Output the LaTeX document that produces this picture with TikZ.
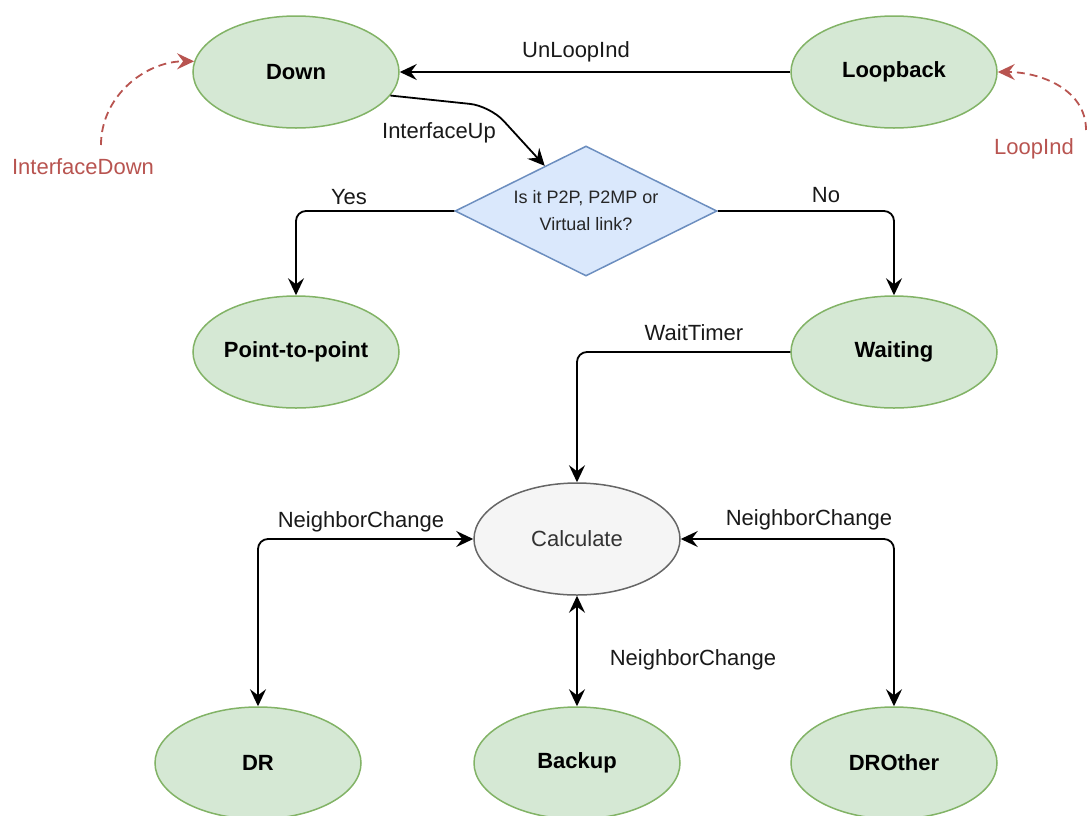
\documentclass[tikz,border=0pt]{standalone}
\usepackage{fontspec}
\setmainfont{Liberation Sans}
\usetikzlibrary{shapes.geometric,arrows.meta}
\definecolor{grfill}{HTML}{D5E8D4}
\definecolor{grline}{HTML}{82B366}
\definecolor{blfill}{HTML}{DAE8FC}
\definecolor{blline}{HTML}{6C8EBF}
\definecolor{gyfill}{HTML}{F5F5F5}
\definecolor{gyline}{HTML}{666666}
\definecolor{evred}{HTML}{B85450}

\begin{document}
\begin{tikzpicture}[x=0.5pt,y=0.5pt,
    >={Stealth[length=8.5pt,width=8pt,inset=3pt]},
    state/.style={ellipse,draw=grline,fill=grfill,line width=0.75pt,
      minimum width=103pt,minimum height=56pt,inner sep=0pt,
      font=\bfseries\fontsize{11}{13}\selectfont},
    calc/.style={state,draw=gyline,fill=gyfill,text=black!80,
      font=\fontsize{11}{13}\selectfont},
    quest/.style={diamond,draw=blline,fill=blfill,line width=0.75pt,
      aspect=2,minimum width=131pt,minimum height=65pt,inner sep=0pt,
      align=center,text=black!85,font=\fontsize{9}{13.5}\selectfont},
    lbl/.style={text=black!90,font=\fontsize{11}{13}\selectfont},
    evlbl/.style={lbl,text=evred},
    trans/.style={line width=0.9pt,rounded corners=5pt,->},
    both/.style={trans,<->},
    event/.style={trans,evred,dash pattern=on 4pt off 2.5pt}]
    \useasboundingbox (0,0) rectangle (1087,-815);

    % states
    \node[state] (Down) at (296,-72) {Down};
    \node[state] (Loop) at (894,-72) {Loopback};
    \node[quest] (Q) at (586,-211) {Is it P2P, P2MP or\\Virtual link?};
    \node[state] (P2P) at (296,-352) {Point-to-point};
    \node[state] (Wait) at (894,-352) {Waiting};
    \node[calc] (Calc) at (577,-539) {Calculate};
    \node[state] (DR) at (258,-763) {DR};
    \node[state] (BDR) at (577,-763) {Backup};
    \node[state] (Other) at (894,-763) {DROther};

    % outside events
    \coordinate (cIfDown) at (101,-145);
    \coordinate (cLoopInd) at (1086,-130);
    \node[evlbl] (lIfDown) at (83,-167) {InterfaceDown};
    \node[evlbl] (lLoopInd) at (1034,-149) {LoopInd};

    % transition labels
    \node[lbl] (lUnLoop) at (576,-52) {UnLoopInd};
    \node[lbl] (lIfUp) at (439,-133) {InterfaceUp};
    \node[lbl] (lYes) at (349,-197) {Yes};
    \node[lbl] (lNo) at (826,-195) {No};
    \node[lbl] (lWait) at (694,-333) {WaitTimer};
    \node[lbl] (lNbDR) at (361,-522) {NeighborChange};
    \node[lbl] (lNbOther) at (809,-520) {NeighborChange};
    \node[lbl] (lNbBDR) at (693,-660) {NeighborChange};

    \draw[trans] (Loop) -- (Down);
    \draw[trans,rounded corners=10pt] (Down.-14) -- (490,-106) -- (Q);
    \draw[trans] (Q.west) -| (P2P.north);
    \draw[trans] (Q.east) -| (Wait.north);
    \draw[trans] (Wait.west) -| (Calc.north);
    \draw[both] (Calc.west) -| (DR.north);
    \draw[both] (Calc.east) -| (Other.north);
    \draw[both] (Calc.south) -- (BDR.north);
    \draw[event] (cIfDown) to[out=90,in=180] (Down.174);
    \draw[event] (cLoopInd) to[out=90,in=0] (Loop.east);
  \end{tikzpicture}
\end{document}
